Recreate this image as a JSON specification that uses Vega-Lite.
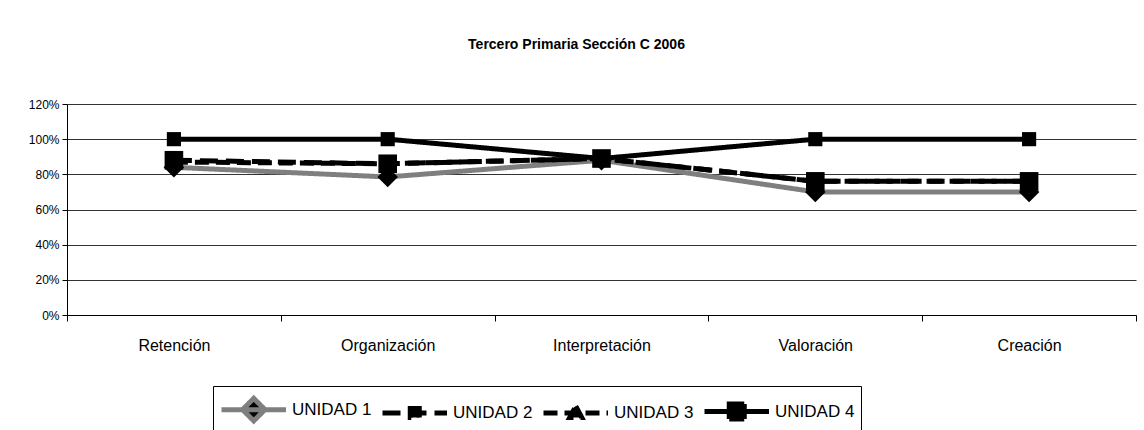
{
  "$schema": "https://vega.github.io/schema/vega-lite/v6.json",
  "autosize": "none",
  "width": 1069,
  "height": 211,
  "padding": {"left": 67, "top": 104, "right": 8, "bottom": 115},
  "background": "white",
  "title": {"text": "Tercero Primaria Sección C 2006", "font": "Liberation Sans", "fontSize": 14, "fontWeight": "bold", "color": "black", "anchor": "middle", "offset": 46, "dx": -25},
  "data": {"values": [
    {"cat": "Retención", "serie": "UNIDAD 1", "v": 0.84},
    {"cat": "Organización", "serie": "UNIDAD 1", "v": 0.785},
    {"cat": "Interpretación", "serie": "UNIDAD 1", "v": 0.88},
    {"cat": "Valoración", "serie": "UNIDAD 1", "v": 0.7},
    {"cat": "Creación", "serie": "UNIDAD 1", "v": 0.7},
    {"cat": "Retención", "serie": "UNIDAD 2", "v": 0.88},
    {"cat": "Organización", "serie": "UNIDAD 2", "v": 0.86},
    {"cat": "Interpretación", "serie": "UNIDAD 2", "v": 0.89},
    {"cat": "Valoración", "serie": "UNIDAD 2", "v": 0.76},
    {"cat": "Creación", "serie": "UNIDAD 2", "v": 0.76},
    {"cat": "Retención", "serie": "UNIDAD 3", "v": 0.87},
    {"cat": "Organización", "serie": "UNIDAD 3", "v": 0.86},
    {"cat": "Interpretación", "serie": "UNIDAD 3", "v": 0.89},
    {"cat": "Valoración", "serie": "UNIDAD 3", "v": 0.76},
    {"cat": "Creación", "serie": "UNIDAD 3", "v": 0.76},
    {"cat": "Retención", "serie": "UNIDAD 4", "v": 1.0},
    {"cat": "Organización", "serie": "UNIDAD 4", "v": 1.0},
    {"cat": "Interpretación", "serie": "UNIDAD 4", "v": 0.89},
    {"cat": "Valoración", "serie": "UNIDAD 4", "v": 1.0},
    {"cat": "Creación", "serie": "UNIDAD 4", "v": 1.0}
  ]},
  "encoding": {
    "x": {"field": "cat", "type": "nominal", "sort": ["Retención", "Organización", "Interpretación", "Valoración", "Creación"],
      "scale": {"paddingInner": 0, "paddingOuter": 0},
      "axis": {"title": null, "labelAngle": 0, "labelFont": "Liberation Sans", "labelFontSize": 16, "labelColor": "black", "labelPadding": 16, "tickBand": "extent", "tickSize": 6, "tickColor": "black", "domainColor": "black", "grid": false}},
    "y": {"field": "v", "type": "quantitative", "scale": {"domain": [0, 1.2]},
      "axis": {"title": null, "format": ".0%", "values": [0, 0.2, 0.4, 0.6, 0.8, 1.0, 1.2], "labelFont": "Liberation Sans", "labelFontSize": 12, "labelColor": "black", "tickColor": "black", "tickSize": 5, "domainColor": "black", "gridColor": "black", "gridOpacity": 0.8, "labelPadding": 3}}
  },
  "layer": [
    {
      "mark": {"type": "line", "strokeCap": "butt"},
      "encoding": {
        "color": {"field": "serie", "type": "nominal", "scale": {"range": ["#7f7f7f", "black", "black", "black"]},
          "legend": {"title": null, "orient": "none", "legendX": 146, "legendY": 282, "direction": "horizontal", "symbolSize": 900, "symbolStrokeWidth": 5, "labelFont": "Liberation Sans", "labelFontSize": 17, "labelColor": "black", "strokeColor": "black", "padding": 6, "columnPadding": 0, "labelOffset": 38,
            "encode": {"symbols": {"update": {
              "fill": {"value": "black"},
              "shape": {"signal": "datum.value === 'UNIDAD 1' ? 'M-1,0H3.3M1.15,-0.75L1.9,0L1.15,0.75L0.4,0Z' : datum.value === 'UNIDAD 2' ? 'M-1,0H3.3M0.85,-0.3H1.45V0.3H0.85Z' : datum.value === 'UNIDAD 3' ? 'M-1,0H3.3M1.15,-0.45L1.55,0.3H0.75Z' : 'M-1,0H3.3M0.65,-0.5H1.65V0.5H0.65Z'"}
            }}}}},
        "strokeDash": {"field": "serie", "type": "nominal", "scale": {"range": [[1, 0], [18, 8], [14, 7], [1, 0]]}},
        "strokeWidth": {"field": "serie", "type": "nominal", "scale": {"range": [5, 5, 4, 4]}, "legend": null}
      }
    },
    {
      "mark": {"type": "point", "filled": true, "opacity": 1, "color": "black"},
      "encoding": {
        "shape": {"field": "serie", "type": "nominal", "scale": {"range": ["diamond", "square", "triangle-up", "square"]}, "legend": null},
        "size": {"field": "serie", "type": "nominal", "scale": {"range": [420, 200, 380, 820]}, "legend": null}
      }
    }
  ],
  "resolve": {"scale": {"shape": "independent", "size": "independent"}},
  "config": {"view": {"stroke": null}, "legend": {"symbolLimit": 10}}
}
